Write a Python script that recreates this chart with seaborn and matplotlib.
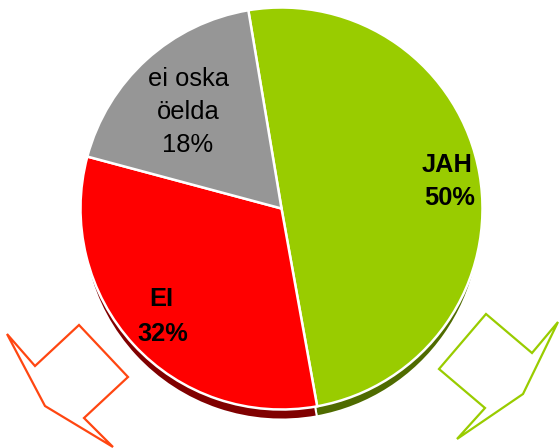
import matplotlib
matplotlib.use("Agg")
import matplotlib.pyplot as plt
from matplotlib.patches import Polygon
import seaborn as sns

categories = ["JAH", "EI", "ei oska\nöelda"]
shares = [49.8, 32.0, 18.2]
percent_labels = ["50%", "32%", "18%"]

W, H = 559, 448
sns.set_theme(style="white")
plt.rcParams["font.family"] = ["Liberation Sans", "DejaVu Sans"]

face_colors = sns.color_palette(["#99cc00", "#ff0000", "#969696"])
shadow_colors = sns.color_palette(["#4f6b00", "#800000", "#969696"])

fig = plt.figure(figsize=(W / 100, H / 100), dpi=100)
ax = fig.add_axes([0, 0, 1, 1])


def py(y):
    return H - y


# depth layer, then the pie itself
ax.pie(shares, colors=shadow_colors, startangle=99.5, counterclock=False,
       center=(281.5, py(220.5)), radius=199, frame=False,
       wedgeprops=dict(edgecolor="white", linewidth=1.4))
ax.pie(shares, colors=face_colors, startangle=99.5, counterclock=False,
       center=(281.5, py(208.5)), radius=201, frame=False,
       wedgeprops=dict(edgecolor="white", linewidth=1.8))

ax.set_xlim(0, W)
ax.set_ylim(0, H)
ax.set_aspect("equal")
ax.axis("off")

# decorative arrows
red_arrow = [(7, 334), (35, 366), (79, 325), (128, 377), (84, 418), (113, 447), (45, 406)]
green_arrow = [(558, 322), (532, 353), (486, 314), (439, 369), (485, 408), (457, 439), (523, 394)]
for pts, col in ((red_arrow, "#ff4611"), (green_arrow, "#99cc00")):
    ax.add_patch(Polygon([(x, py(y)) for x, y in pts], closed=True, fill=False,
                         edgecolor=col, linewidth=1.6, joinstyle="miter", clip_on=False))

ax.text(447, py(165), categories[0], ha="center", va="center", fontsize=18.3, fontweight="bold", color="black")
ax.text(449.5, py(198), percent_labels[0], ha="center", va="center", fontsize=18.3, fontweight="bold", color="black")
ax.text(161, py(299), categories[1], ha="center", va="center", fontsize=18.3, fontweight="bold", color="black")
ax.text(162.5, py(334), percent_labels[1], ha="center", va="center", fontsize=18.3, fontweight="bold", color="black")
first, second = categories[2].split("\n")
ax.text(188, py(79), first, ha="center", va="center", fontsize=18.4, color="black")
ax.text(188, py(112), second, ha="center", va="center", fontsize=18.4, color="black")
ax.text(188, py(145), percent_labels[2], ha="center", va="center", fontsize=18.4, color="black")

fig.savefig("out.png", dpi=100, facecolor="white")
